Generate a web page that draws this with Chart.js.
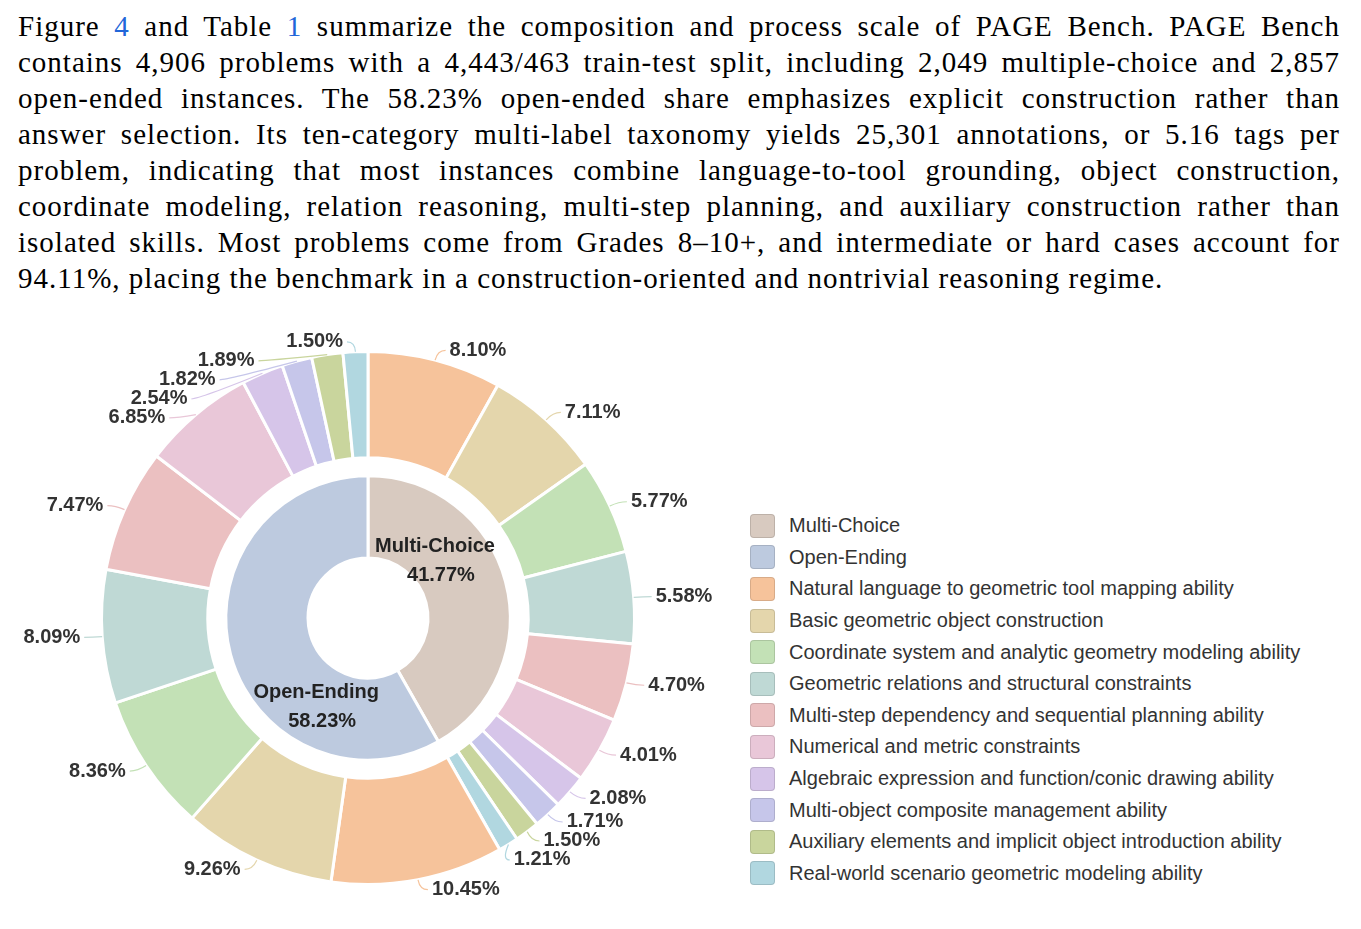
<!DOCTYPE html>
<html lang="en">
<head>
<meta charset="UTF-8">
<title>PAGE Bench composition</title>
<script src="https://cdn.jsdelivr.net/npm/chart.js"></script>
<style>
    body { margin: 0; background: #fff; width: 1361px; height: 929px; position: relative; overflow: hidden; }
    .texto { position: absolute; left: 18px; top: 8px; width: 1322px; font-family: "Liberation Serif", "Times New Roman", serif; font-size: 29px; letter-spacing: 1px; line-height: 36px; color: #000; }
    .texto div { text-align: justify; text-align-last: justify; white-space: nowrap; }
    .texto div.ultima { text-align-last: left; }
    .texto a { color: #2166d9; text-decoration: none; }
    .grafico { position: absolute; left: 0; top: 300px; width: 740px; height: 629px; }
    .legenda { position: absolute; left: 750px; top: 510px; font-family: "Liberation Sans", Arial, sans-serif; font-size: 20px; color: #333; }
    .item { height: 31.6px; display: flex; align-items: center; position: relative; }
    .cor { width: 23px; height: 22px; border-radius: 4px; border: 1px solid rgba(0,0,0,0.12); box-sizing: content-box; margin-right: 14px; }
</style>
</head>
<body>
<div class="texto">
    <div>Figure <a>4</a> and Table <a>1</a> summarize the composition and process scale of PAGE Bench. PAGE Bench</div>
    <div>contains 4,906 problems with a 4,443/463 train-test split, including 2,049 multiple-choice and 2,857</div>
    <div>open-ended instances. The 58.23% open-ended share emphasizes explicit construction rather than</div>
    <div>answer selection. Its ten-category multi-label taxonomy yields 25,301 annotations, or 5.16 tags per</div>
    <div>problem, indicating that most instances combine language-to-tool grounding, object construction,</div>
    <div>coordinate modeling, relation reasoning, multi-step planning, and auxiliary construction rather than</div>
    <div>isolated skills. Most problems come from Grades 8–10+, and intermediate or hard cases account for</div>
    <div class="ultima">94.11%, placing the benchmark in a construction-oriented and nontrivial reasoning regime.</div>
</div>
<div class="grafico"><canvas id="grafico_rosca"></canvas></div>
<div class="legenda" id="legenda"></div>
<script>
    // tipos de questao (anel interno)
    var tipos = ['Multi-Choice', 'Open-Ending'];
    var percTipos = [41.77, 58.23];
    var corTipos = ['#d8cac0', '#bdcadf'];

    // categorias de habilidade (anel externo)
    var categorias = [
        'Natural language to geometric tool mapping ability',
        'Basic geometric object construction',
        'Coordinate system and analytic geometry modeling ability',
        'Geometric relations and structural constraints',
        'Multi-step dependency and sequential planning ability',
        'Numerical and metric constraints',
        'Algebraic expression and function/conic drawing ability',
        'Multi-object composite management ability',
        'Auxiliary elements and implicit object introduction ability',
        'Real-world scenario geometric modeling ability'
    ];
    var corCategorias = ['#f6c39b', '#e4d6ac', '#c3e1b6', '#bfd9d5', '#ebc0c1', '#e9c7d8', '#d6c5e9', '#c6c6ea', '#c9d59d', '#b1d7e0'];

    // porcentagem de cada categoria dentro de cada tipo
    var percMultiChoice = [8.10, 7.11, 5.77, 5.58, 4.70, 4.01, 2.08, 1.71, 1.50, 1.21];
    var percOpenEnding = [10.45, 9.26, 8.36, 8.09, 7.47, 6.85, 2.54, 1.82, 1.89, 1.50];

    var dadosExterno = percMultiChoice.concat(percOpenEnding);
    var coresExterno = corCategorias.concat(corCategorias);

    // legenda em html
    var legenda = document.getElementById('legenda');
    tipos.concat(categorias).forEach(function (nome, i) {
        var cor = i < 2 ? corTipos[i] : corCategorias[i - 2];
        var item = document.createElement('div');
        item.className = 'item';
        item.innerHTML = '<span class="cor" style="background:' + cor + '"></span><span>' + nome + '</span>';
        legenda.appendChild(item);
    });

    var fonteRotulo = 'bold 20px "Liberation Sans", Arial, sans-serif';

    // rotulos de fora com linhas guia + rotulos do anel interno
    var pluginRotulos = {
        id: 'rotulos',
        afterDatasetsDraw(chart) {
            var ctx = chart.ctx;
            var arcos = chart.getDatasetMeta(0).data;
            var cx = arcos[0].x, cy = arcos[0].y;
            var R = arcos[0].outerRadius;
            var comp1 = 10, comp2 = 8, rL = R + comp1, gap = 19;
            var lados = { dir: [], esq: [] };
            arcos.forEach(function (a, i) {
                var ang = (a.startAngle + a.endAngle) / 2;
                var r = {
                    i: i, ang: ang,
                    x0: cx + Math.cos(ang) * R, y0: cy + Math.sin(ang) * R,
                    y: cy + Math.sin(ang) * rL, yNat: cy + Math.sin(ang) * rL,
                    xNat: cx + Math.cos(ang) * rL
                };
                (Math.cos(ang) >= 0 ? lados.dir : lados.esq).push(r);
            });
            ['dir', 'esq'].forEach(function (lado) {
                var lista = lados[lado].sort(function (a, b) { return a.y - b.y; });
                for (var k = 1; k < lista.length; k++) {
                    if (lista[k].y - lista[k - 1].y < gap) lista[k].y = lista[k - 1].y + gap;
                }
                lista.forEach(function (r) {
                    var s = lado === 'dir' ? 1 : -1;
                    var x1 = r.xNat;
                    if (Math.abs(r.y - r.yNat) > 0.5) {
                        var dy = r.y - cy;
                        x1 = cx + s * Math.sqrt(Math.max(rL * rL - dy * dy, 0));
                    }
                    var x2 = x1 + s * comp2;
                    ctx.save();
                    ctx.strokeStyle = coresExterno[r.i];
                    ctx.lineWidth = 1.2;
                    ctx.beginPath();
                    ctx.moveTo(r.x0, r.y0);
                    ctx.quadraticCurveTo(x1, r.y, x2, r.y);
                    ctx.stroke();
                    ctx.fillStyle = '#333';
                    ctx.font = fonteRotulo;
                    ctx.textBaseline = 'middle';
                    ctx.textAlign = lado === 'dir' ? 'left' : 'right';
                    ctx.fillText(dadosExterno[r.i].toFixed(2) + '%', x2 + s * 4, r.y);
                    ctx.restore();
                });
            });

            // anel interno
            var internos = chart.getDatasetMeta(2).data;
            internos.forEach(function (a, i) {
                var ang = a.startAngle + 0.3 * (a.endAngle - a.startAngle);
                var r = a.innerRadius + 0.42 * (a.outerRadius - a.innerRadius);
                var x = cx + Math.cos(ang) * r, y = cy + Math.sin(ang) * r;
                ctx.save();
                ctx.fillStyle = '#222';
                ctx.font = fonteRotulo;
                ctx.textAlign = 'center';
                ctx.textBaseline = 'middle';
                ctx.fillText(tipos[i], x, y - 5);
                ctx.fillText(percTipos[i].toFixed(2) + '%', x + 6, y + 24);
                ctx.restore();
            });
        }
    };

    const chart = new Chart('grafico_rosca', {
        type: 'doughnut',
        data: {
            labels: categorias.concat(categorias),
            datasets: [{
                label: 'Categorias',
                data: dadosExterno,
                backgroundColor: coresExterno,
                borderColor: '#fff',
                borderWidth: 3,
                weight: 106
            }, {
                // anel vazio so para o espaco entre os aneis
                label: 'espaco',
                data: [1],
                backgroundColor: 'rgba(0,0,0,0)',
                borderWidth: 0,
                weight: 18
            }, {
                label: 'Tipos',
                data: percTipos,
                backgroundColor: corTipos,
                borderColor: '#fff',
                borderWidth: 3,
                weight: 82
            }]
        },
        options: {
            responsive: true,
            maintainAspectRatio: false,
            animation: false,
            cutout: 60,
            layout: { padding: { left: 100, right: 104, top: 50, bottom: 43 } },
            plugins: {
                legend: { display: false },
                tooltip: { enabled: false }
            }
        },
        plugins: [pluginRotulos]
    });
</script>
</body>
</html>
